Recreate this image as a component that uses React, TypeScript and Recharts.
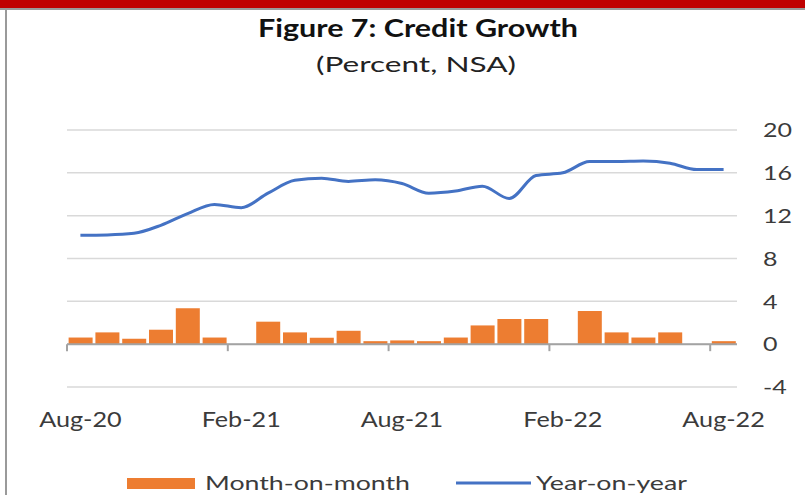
import React from 'react';
import { ComposedChart, Bar, Line, XAxis, YAxis, CartesianGrid, ReferenceLine } from 'recharts';

const months = [
  'Aug-20', 'Sep-20', 'Oct-20', 'Nov-20', 'Dec-20', 'Jan-21', 'Feb-21', 'Mar-21', 'Apr-21',
  'May-21', 'Jun-21', 'Jul-21', 'Aug-21', 'Sep-21', 'Oct-21', 'Nov-21', 'Dec-21', 'Jan-22',
  'Feb-22', 'Mar-22', 'Apr-22', 'May-22', 'Jun-22', 'Jul-22', 'Aug-22',
];
const monthOnMonth = [
  0.62, 1.1, 0.5, 1.35, 3.35, 0.62, 0, 2.1, 1.1, 0.6, 1.25, 0.28, 0.35, 0.28, 0.62, 1.75,
  2.35, 2.35, 0, 3.1, 1.1, 0.62, 1.1, 0, 0.28,
];
const yearOnYear = [
  10.17, 10.2, 10.35, 11.1, 12.2, 13.05, 12.75, 14.1, 15.3, 15.5, 15.2, 15.35, 15.0, 14.1,
  14.3, 14.75, 13.6, 15.75, 16.0, 17.05, 17.05, 17.1, 16.9, 16.3, 16.3,
];
const yTicks = [-4, 0, 4, 8, 12, 16, 20];
const xTickLabels = ['Aug-20', 'Feb-21', 'Aug-21', 'Feb-22', 'Aug-22'];
const tickEvery = 6;

const data = months.map((m, i) => ({ month: m, mom: monthOnMonth[i], yoy: yearOnYear[i] }));

const FONT = 'Lato, "Open Sans", sans-serif';
const TEXT = '#3b3b3b';

const XTick = (props: any) => {
  const { x, y, payload } = props;
  return (
    <g transform={`translate(${x},${y})`}>
      <text transform="scale(1.2,1)" textAnchor="middle" dy={40} fontSize={21} fill={TEXT} fontFamily={FONT}>
        {payload.value}
      </text>
    </g>
  );
};

const YTick = (props: any) => {
  const { x, y, payload } = props;
  return (
    <g transform={`translate(${x + 26},${y})`}>
      <text transform="scale(1.25,1)" textAnchor="start" dy="0.36em" fontSize={20} fill={TEXT} fontFamily={FONT}>
        {payload.value}
      </text>
    </g>
  );
};

const ZeroAxis = (props: any) => {
  const { x1, y1, x2 } = props;
  const left = Math.min(x1, x2);
  const right = Math.max(x1, x2);
  const n = months.length;
  const step = (right - left) / n;
  const marks = [];
  for (let i = 0; i < n; i += tickEvery) {
    const x = left + i * step;
    marks.push(<line key={i} x1={x} x2={x} y1={y1} y2={y1 + 7} stroke="#a3a3a3" strokeWidth={2} />);
  }
  return (
    <g>
      <line x1={left} x2={right} y1={y1} y2={y1} stroke="#a3a3a3" strokeWidth={2} />
      {marks}
    </g>
  );
};

export default function App() {
  return (
    <div style={{ position: 'absolute', left: 0, top: 0, width: 805, height: 495, background: '#fff', overflow: 'hidden' }}>
      <div style={{ position: 'absolute', left: 0, top: 0, width: 805, height: 8, background: '#C00000' }} />
      <div style={{ position: 'absolute', left: 0, top: 8, width: 805, height: 1.5, background: '#9a9a9a' }} />
      <div style={{ position: 'absolute', left: 5, top: 9, width: 1.5, height: 486, background: '#9a9a9a' }} />
      <svg style={{ position: 'absolute', left: 0, top: 0 }} width={805} height={100}>
        <text x={418} y={37} textAnchor="middle" fontFamily={FONT} fontWeight={700} fontSize={24} fill="#111"
          textLength={320} lengthAdjust="spacingAndGlyphs">Figure 7: Credit Growth</text>
        <text x={416} y={72} textAnchor="middle" fontFamily={FONT} fontSize={21} fill="#222"
          textLength={200} lengthAdjust="spacingAndGlyphs">(Percent, NSA)</text>
      </svg>
      <div style={{ position: 'absolute', left: 0, top: 0 }}>
        <ComposedChart width={805} height={495} data={data} margin={{ top: 130, right: 0, left: 67, bottom: 68 }}
          barCategoryGap="6%">
          <CartesianGrid vertical={false} stroke="#d9d9d9" strokeWidth={1.5} />
          <XAxis dataKey="month" ticks={xTickLabels} interval={0} axisLine={false} tickLine={false}
            tickSize={0} tickMargin={0} tick={<XTick />} height={40} />
          <YAxis orientation="right" domain={[-4, 20]} ticks={yTicks} width={68} axisLine={false}
            tickLine={false} tickSize={0} tickMargin={0} tick={<YTick />} allowDataOverflow />
          <ReferenceLine y={0} shape={<ZeroAxis />} />
          <Bar dataKey="mom" fill="#ED7D31" isAnimationActive={false} />
          <Line dataKey="yoy" type="monotone" stroke="#4472C4" strokeWidth={3} dot={false} isAnimationActive={false} />
        </ComposedChart>
      </div>
      <svg style={{ position: 'absolute', left: 0, top: 440 }} width={805} height={55}>
        <rect x={127} y={38} width={68} height={11} fill="#ED7D31" />
        <text x={205} y={50} fontFamily={FONT} fontSize={20} fill={TEXT} textLength={205} lengthAdjust="spacingAndGlyphs">Month-on-month</text>
        <line x1={456} x2={531} y1={43} y2={43} stroke="#4472C4" strokeWidth={3} />
        <text x={536} y={50} fontFamily={FONT} fontSize={20} fill={TEXT} textLength={151} lengthAdjust="spacingAndGlyphs">Year-on-year</text>
      </svg>
    </div>
  );
}
